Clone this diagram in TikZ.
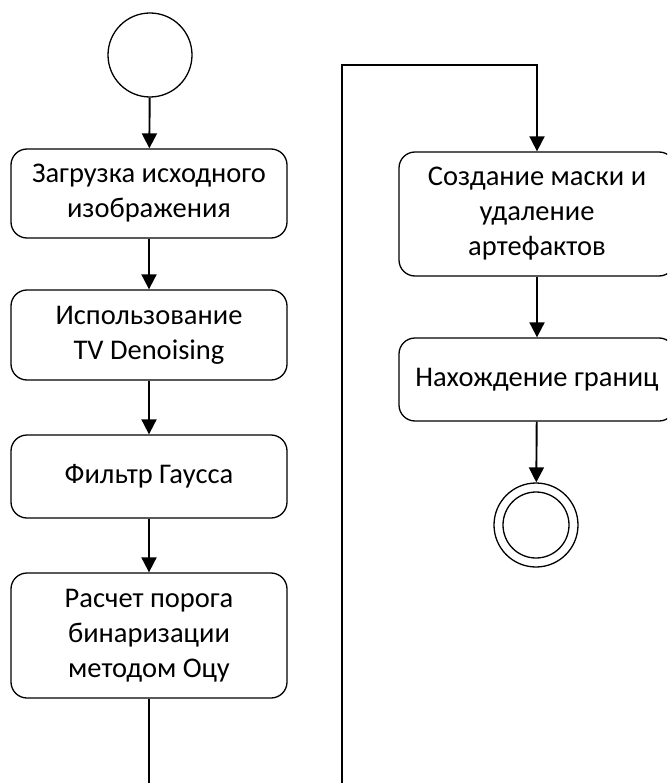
\documentclass[tikz,border=0pt]{standalone}
\usepackage{fontspec}
\setmainfont{Carlito}
\usepackage{tikz}
\usetikzlibrary{arrows.meta,positioning}

\begin{document}
\begin{tikzpicture}[x=1pt,y=-1pt,
		act/.style={rectangle,rounded corners=16pt,draw,line width=1.3pt,minimum width=276pt,
			align=center,inner sep=0pt,font=\fontsize{28.5}{35}\selectfont},
		start/.style={circle,draw,line width=1.3pt,minimum size=84pt,inner sep=0pt},
		fin/.style={start},
		e/.style={-{Triangle[length=15pt,width=15pt]},line width=1.9pt}
		]
		\useasboundingbox (0,0) rectangle (667,783);
		\clip (0,0) rectangle (667,783);

		% Left column
		\node[start] (init) at (150,55) {};
		\node[act,minimum height=89pt] (load) at (149,193.5) {Загрузка исходного\\изображения};
		\node[act,minimum height=90pt] (tv) at (149,335) {Использование\\TV Denoising};
		\node[act,minimum height=83pt] (gauss) at (149,476.5) {Фильтр Гаусса};
		\node[act,minimum height=125pt] (otsu) at (149,635.5) {Расчет порога\\бинаризации\\методом Оцу};
		\draw[e] (init) -- (load);
		\draw[e] (load) -- (tv);
		\draw[e] (tv) -- (gauss);
		\draw[e] (gauss) -- (otsu);

		% Right column
		\node[act,minimum height=124pt] (mask) at (537,214) {Создание маски и\\удаление\\артефактов};
		\node[act,minimum height=83pt] (edges) at (537,379.5) {Нахождение границ};
		\node[fin] (final) at (536,525) {};
		\node[circle,draw,line width=1.3pt,minimum size=66pt,inner sep=0pt] (finalin) at (final) {};
		\draw[e] (mask) -- (edges);
		\draw[e] (edges) -- (final);

		% Transition between columns
		\coordinate (low) at (342,800);
		\coordinate (high) at (342,65);
		\draw[e] (otsu.south) |- (low) -- (high) -| (mask.north);
	\end{tikzpicture}
\end{document}
